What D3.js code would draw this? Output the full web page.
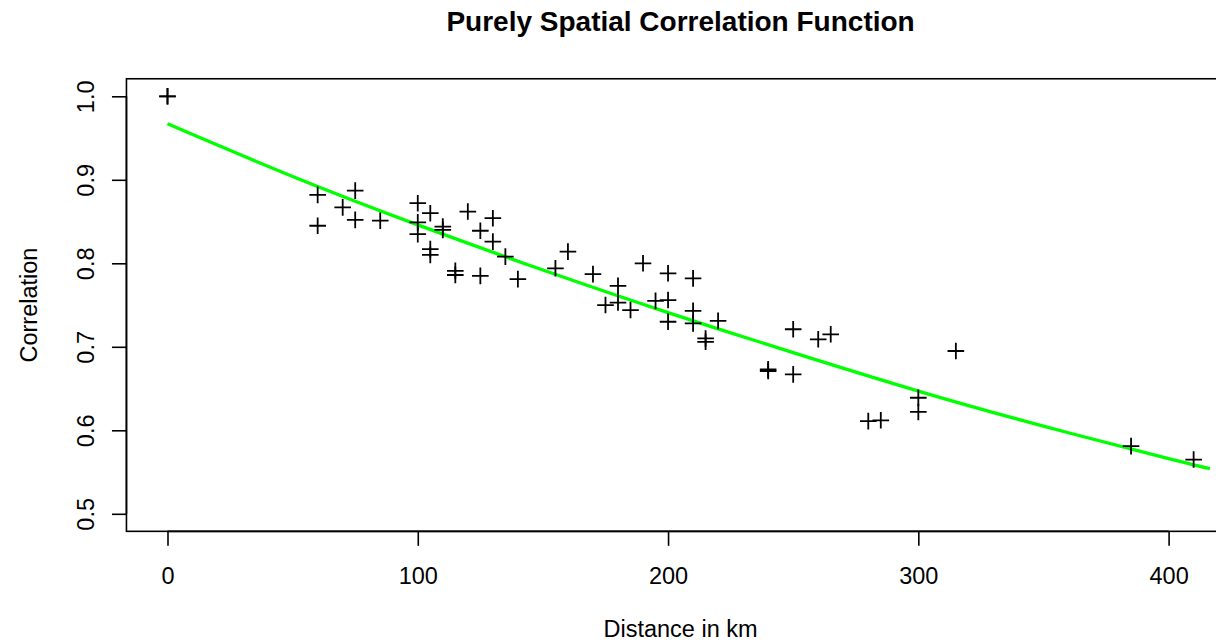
<!DOCTYPE html>
<html>
<head>
<meta charset="utf-8">
<script src="https://cdn.jsdelivr.net/npm/d3@7"></script>
<style>
  html, body { margin: 0; padding: 0; background: #ffffff; }
  svg { display: block; }
  text { font-family: "Liberation Sans", Arial, Helvetica, sans-serif; fill: #000; }
</style>
</head>
<body>
<svg id="chart" width="1216" height="643"></svg>
<script>
// ---- data ----
const distance = [0, 0, 60, 60, 70, 75, 75, 85, 100, 100, 100, 105, 105, 105, 110, 110,
  115, 115, 120, 125, 125, 130, 130, 135, 140, 155, 160, 170, 175, 180, 180, 185, 190, 195,
  200, 200, 200, 210, 210, 210, 215, 215, 220, 240, 240, 250, 250, 260, 265, 280, 285,
  300, 300, 315, 385, 410];
const correlation = [1.0, 1.0, 0.882, 0.845, 0.867, 0.887, 0.852, 0.851, 0.872, 0.849, 0.835,
  0.860, 0.817, 0.810, 0.844, 0.840, 0.791, 0.786, 0.862, 0.839, 0.785, 0.854, 0.826, 0.808,
  0.781, 0.794, 0.814, 0.787, 0.750, 0.773, 0.753, 0.744, 0.800, 0.755, 0.788, 0.756, 0.730,
  0.782, 0.743, 0.728, 0.710, 0.706, 0.731, 0.673, 0.671, 0.721, 0.667, 0.709, 0.715, 0.611,
  0.612, 0.639, 0.622, 0.695, 0.581, 0.565];

// fitted curve
const fitDistance = [0, 50, 100, 150, 200, 250, 300, 350, 400, 416.5];
const fitCorrelation = [0.967, 0.904, 0.846, 0.792, 0.741, 0.693, 0.647, 0.605, 0.566, 0.554];

const xTicks = [0, 100, 200, 300, 400];
const xTickLabels = ["0", "100", "200", "300", "400"];
const yTicks = [0.5, 0.6, 0.7, 0.8, 0.9, 1.0];
const yTickLabels = ["0.5", "0.6", "0.7", "0.8", "0.9", "1.0"];

const titleText = "Purely Spatial Correlation Function";
const xLabel = "Distance in km";
const yLabel = "Correlation";

(function () {
  // ---- scales ----
  const x = d3.scaleLinear().domain([0, 400]).range([167.5, 1168.6]);
  const y = d3.scaleLinear().domain([0.5, 1.0]).range([513.8, 96.3]);
  const xMin = -16.4, xMax = 426.4, yMin = 0.479, yMax = 1.021;

  const svg = d3.select("#chart");
  svg.append("rect").attr("width", 1216).attr("height", 643).attr("fill", "#fff");

  const pLeft = x(xMin), pRight = x(xMax), pTop = y(yMax), pBottom = y(yMin);

  svg.append("defs").append("clipPath").attr("id", "plotclip")
    .append("rect").attr("x", pLeft).attr("y", pTop)
    .attr("width", pRight - pLeft).attr("height", pBottom - pTop);

  // ---- axes ----
  const tickLen = 14.5;
  const gx = svg.append("g").attr("transform", `translate(0,${pBottom})`)
    .call(d3.axisBottom(x).tickValues(xTicks).tickFormat((d, i) => xTickLabels[i])
      .tickSize(tickLen).tickPadding(0));
  gx.select(".domain").remove();
  gx.selectAll(".tick line").attr("stroke", "#000").attr("stroke-width", 1.6);
  gx.selectAll(".tick text")
    .attr("dy", null)
    .attr("font-size", 23.5)
    .attr("font-family", "Liberation Sans, Arial, sans-serif")
    .attr("fill", "#000")
    .attr("y", 584.5 - pBottom);
  gx.append("line").attr("x1", x(xTicks[0])).attr("x2", x(xTicks[xTicks.length - 1]))
    .attr("y1", 0).attr("y2", 0).attr("stroke", "#000").attr("stroke-width", 1.6);

  const gy = svg.append("g").attr("transform", `translate(${pLeft},0)`)
    .call(d3.axisLeft(y).tickValues(yTicks).tickFormat((d, i) => yTickLabels[i])
      .tickSize(tickLen).tickPadding(0));
  gy.select(".domain").remove();
  gy.selectAll(".tick line").attr("stroke", "#000").attr("stroke-width", 1.6);
  gy.selectAll(".tick text")
    .attr("dy", null)
    .attr("font-size", 23.5)
    .attr("font-family", "Liberation Sans, Arial, sans-serif")
    .attr("fill", "#000")
    .attr("text-anchor", "middle")
    .attr("x", 0).attr("y", 0)
    .attr("transform", `translate(${94 - pLeft},0) rotate(-90)`);
  gy.append("line").attr("x1", 0).attr("x2", 0)
    .attr("y1", y(yTicks[0])).attr("y2", y(yTicks[yTicks.length - 1]))
    .attr("stroke", "#000").attr("stroke-width", 1.6);

  // ---- box ----
  svg.append("rect")
    .attr("x", pLeft).attr("y", pTop)
    .attr("width", pRight - pLeft).attr("height", pBottom - pTop)
    .attr("fill", "none").attr("stroke", "#000").attr("stroke-width", 1.6);

  // ---- fitted curve ----
  const line = d3.line().x((d, i) => x(fitDistance[i])).y((d, i) => y(fitCorrelation[i]))
    .curve(d3.curveNatural);
  svg.append("path")
    .datum(fitDistance)
    .attr("d", line)
    .attr("fill", "none")
    .attr("stroke", "#00ff00")
    .attr("stroke-width", 3.3)
    .attr("clip-path", "url(#plotclip)");

  // ---- points (pch = 3 crosses) ----
  const arm = 8.3;
  svg.append("g").selectAll("path")
    .data(distance)
    .join("path")
    .attr("d", (d, i) => {
      const px = x(d), py = y(correlation[i]);
      return `M${px - arm},${py}H${px + arm}M${px},${py - arm}V${py + arm}`;
    })
    .attr("stroke", "#000")
    .attr("stroke-width", 1.8)
    .attr("fill", "none");

  // ---- titles ----
  const centerX = (pLeft + pRight) / 2;
  svg.append("text")
    .attr("x", centerX).attr("y", 31)
    .attr("text-anchor", "middle")
    .attr("font-size", 28)
    .attr("font-weight", "bold")
    .text(titleText);

  svg.append("text")
    .attr("x", centerX).attr("y", 637)
    .attr("text-anchor", "middle")
    .attr("font-size", 23.5)
    .text(xLabel);

  svg.append("text")
    .attr("transform", `translate(37,${(pTop + pBottom) / 2}) rotate(-90)`)
    .attr("text-anchor", "middle")
    .attr("font-size", 23.5)
    .text(yLabel);
})();
</script>
</body>
</html>
